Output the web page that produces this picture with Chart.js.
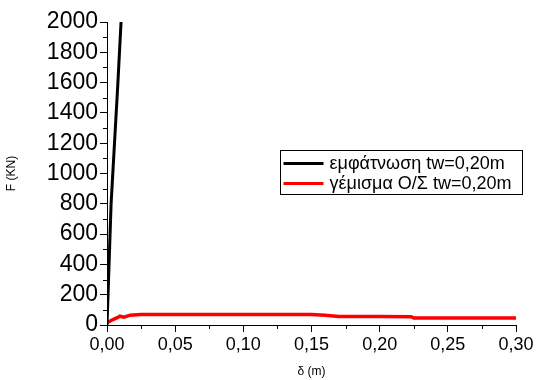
<!DOCTYPE html>
<html lang="el">
<head>
    <meta charset="UTF-8">
    <title>F - δ</title>
    <script src="https://cdn.jsdelivr.net/npm/chart.js"></script>
    <style>
        html, body { margin: 0; padding: 0; background: #fff; }
        .chart-container { width: 539px; height: 380px; }
    </style>
</head>
<body>
    <div class="chart-container">
        <canvas id="fdChart"></canvas>
    </div>

    <script>
        // εμφάτνωση tw=0,20m
        const infillX = [0, 0.0015, 0.003, 0.0055, 0.008, 0.0103];
        const infillY = [0, 400, 800, 1200, 1600, 2000];

        // γέμισμα Ο/Σ tw=0,20m
        const fillX = [0, 0.002, 0.0044, 0.0075, 0.0095, 0.0125, 0.017, 0.025, 0.05, 0.10, 0.15, 0.16, 0.17, 0.20, 0.223, 0.225, 0.25, 0.30];
        const fillY = [15, 25, 36, 48, 58, 51, 65, 70, 70, 70, 70, 64, 56, 56, 55, 47, 47, 47];

        const seriesLabels = ['εμφάτνωση tw=0,20m', 'γέμισμα Ο/Σ tw=0,20m'];
        const yTicks = [0, 200, 400, 600, 800, 1000, 1200, 1400, 1600, 1800, 2000];
        const xTicks = [0, 0.05, 0.10, 0.15, 0.20, 0.25, 0.30];

        const FONT = 'Arial, "Liberation Sans", sans-serif';

        const toPoints = (xs, ys) => xs.map((x, i) => ({ x: x, y: ys[i] }));

        // minor ticks drawn shorter than the major ones
        const minorTicks = {
            id: 'minorTicks',
            afterDraw(chart) {
                const ctx = chart.ctx;
                const xs = chart.scales.x, ys = chart.scales.y;
                ctx.save();
                ctx.strokeStyle = '#000';
                ctx.lineWidth = 1;
                ctx.beginPath();
                for (let i = 0; i < xTicks.length - 1; i++) {
                    const px = Math.round(xs.getPixelForValue((xTicks[i] + xTicks[i + 1]) / 2)) + 0.5;
                    ctx.moveTo(px, xs.top);
                    ctx.lineTo(px, xs.top + 4);
                }
                for (let i = 0; i < yTicks.length - 1; i++) {
                    const py = Math.round(ys.getPixelForValue((yTicks[i] + yTicks[i + 1]) / 2)) + 0.5;
                    ctx.moveTo(ys.right, py);
                    ctx.lineTo(ys.right - 4, py);
                }
                ctx.stroke();
                ctx.restore();
            }
        };

        // legend box inside the plot
        const boxLegend = {
            id: 'boxLegend',
            afterDraw(chart) {
                const ctx = chart.ctx;
                const left = 280.5, top = 150.5, w = 242, h = 44;
                ctx.save();
                ctx.fillStyle = '#fff';
                ctx.fillRect(left, top, w, h);
                ctx.strokeStyle = '#000';
                ctx.lineWidth = 1;
                ctx.strokeRect(left, top, w, h);
                ctx.font = '18px ' + FONT;
                ctx.textBaseline = 'middle';
                chart.data.datasets.forEach((ds, i) => {
                    const cy = top + 13 + i * 20;
                    ctx.strokeStyle = ds.borderColor;
                    ctx.lineWidth = 3;
                    ctx.beginPath();
                    ctx.moveTo(left + 3, cy);
                    ctx.lineTo(left + 43, cy);
                    ctx.stroke();
                    ctx.fillStyle = '#000';
                    ctx.fillText(ds.label, left + 49, cy + 1);
                });
                ctx.restore();
            }
        };

        const ctx = document.getElementById('fdChart').getContext('2d');
        new Chart(ctx, {
            type: 'line',
            data: {
                datasets: [{
                    label: seriesLabels[0],
                    data: toPoints(infillX, infillY),
                    borderColor: '#000000',
                    borderWidth: 3,
                    pointRadius: 0,
                    tension: 0
                }, {
                    label: seriesLabels[1],
                    data: toPoints(fillX, fillY),
                    borderColor: '#ff0000',
                    borderWidth: 3.5,
                    pointRadius: 0,
                    tension: 0
                }]
            },
            options: {
                responsive: true,
                maintainAspectRatio: false,
                animation: false,
                layout: { padding: { top: 22, right: 23, left: 0, bottom: 0 } },
                plugins: {
                    legend: { display: false },
                    tooltip: { enabled: false }
                },
                scales: {
                    x: {
                        type: 'linear',
                        min: 0,
                        max: 0.30,
                        afterFit: s => { s.height = 55; },
                        afterBuildTicks: s => { s.ticks = xTicks.map(v => ({ value: v })); },
                        border: { color: '#000', width: 1 },
                        grid: { drawOnChartArea: false, tickLength: 7, tickColor: '#000' },
                        ticks: {
                            color: '#000',
                            padding: 2,
                            maxRotation: 0,
                            autoSkip: false,
                            font: { size: 18, family: FONT },
                            callback: v => v.toFixed(2).replace('.', ',')
                        },
                        title: {
                            display: true,
                            text: 'δ (m)',
                            color: '#000',
                            font: { size: 12, family: FONT },
                            padding: { top: 0, bottom: 1 }
                        }
                    },
                    y: {
                        min: 0,
                        max: 2000,
                        afterFit: s => { s.width = 107; },
                        afterBuildTicks: s => { s.ticks = yTicks.map(v => ({ value: v })); },
                        border: { color: '#000', width: 1 },
                        grid: { drawOnChartArea: false, tickLength: 7, tickColor: '#000' },
                        ticks: {
                            color: '#000',
                            padding: 2,
                            autoSkip: false,
                            font: { size: 23, family: FONT },
                            callback: v => String(v)
                        },
                        title: {
                            display: true,
                            text: 'F (KN)',
                            color: '#000',
                            font: { size: 12, family: FONT },
                            padding: { top: 4, bottom: 0 }
                        }
                    }
                }
            },
            plugins: [minorTicks, boxLegend]
        });
    </script>
</body>
</html>
